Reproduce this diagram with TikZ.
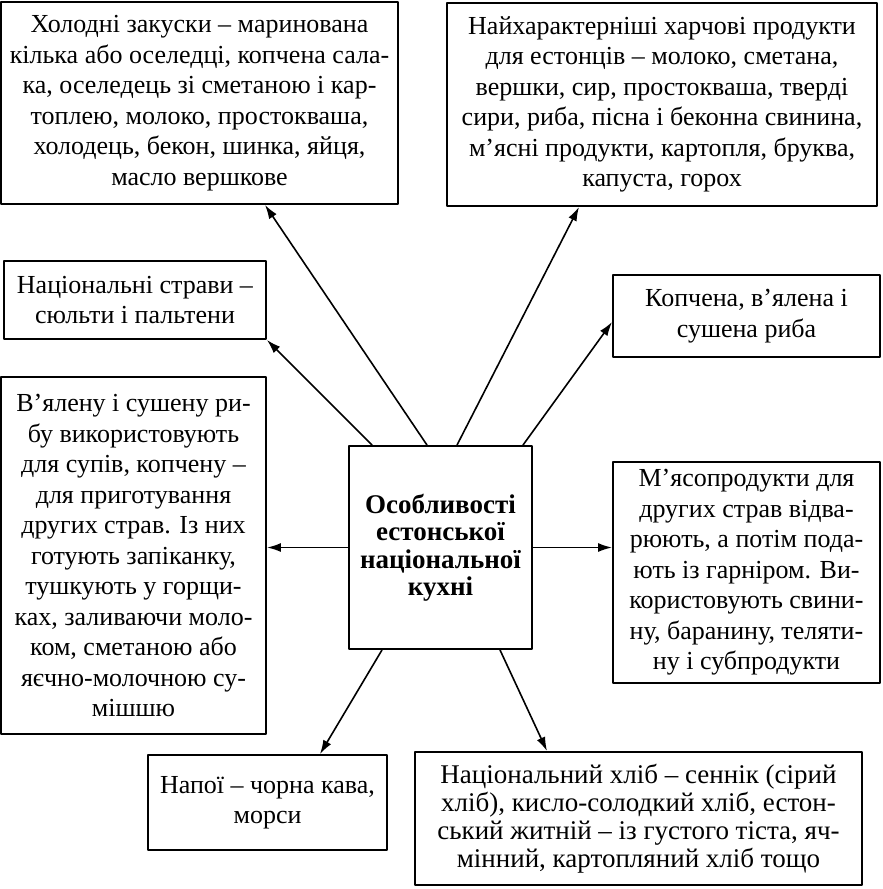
\documentclass[tikz,border=0pt]{standalone}
\usepackage{fontspec}
\setmainfont{Liberation Serif}
\usepackage{tikz}
\usetikzlibrary{arrows.meta,positioning}
\tikzset{
  every picture/.append style={line cap=round,line join=round},
  cuisine box/.style={draw,line width=1.9pt,inner sep=0pt,align=center,
    font=\fontsize{26}{30.5}\selectfont},
  cuisine main/.style={cuisine box,font=\fontsize{27}{27.5}\selectfont\bfseries},
  cuisine low/.style={cuisine box,font=\fontsize{27}{28}\selectfont},
  cuisine arrow/.style={line width=1.6pt,-{Latex[length=14pt,width=9pt]}}
}

\begin{document}
\begin{tikzpicture}[x=1pt,y=1pt]
  \useasboundingbox (0,0) rectangle (883,-889);
  % centre
  \node[cuisine main,minimum width=183,minimum height=203] (centre) at (440.5,-547.5)
    {Особливості\\естонської\\національної\\кухні};
  % boxes round it
  \node[cuisine box,minimum width=397,minimum height=202] (snacks) at (199.5,-103)
    {Холодні закуски – маринована\\кілька або оселедці, копчена сала-\\ка, оселедець зі сметаною і кар-\\топлею, молоко, простокваша,\\холодець, бекон, шинка, яйця,\\масло вершкове};
  \node[cuisine box,minimum width=430,minimum height=203] (products) at (662,-104.5)
    {Найхарактерніші харчові продукти\\для естонців – молоко, сметана,\\вершки, сир, простокваша, тверді\\сири, риба, пісна і беконна свинина,\\м’ясні продукти, картопля, бруква,\\капуста, горох};
  \node[cuisine box,minimum width=262,minimum height=78] (dishes) at (135,-300)
    {Національні страви –\\сюльти і пальтени};
  \node[cuisine box,minimum width=267,minimum height=82] (fish) at (746.5,-316)
    {Копчена, в’ялена і\\сушена риба};
  \node[cuisine box,minimum width=265,minimum height=357] (fishuse) at (133.5,-555.5)
    {В’ялену і сушену ри-\\бу використовують\\для супів, копчену –\\для приготування\\других страв. Із них\\готують запіканку,\\тушкують у горщи-\\ках, заливаючи моло-\\ком, сметаною або\\яєчно-молочною су-\\мішшю};
  \node[cuisine box,minimum width=267,minimum height=221] (meat) at (746.5,-572.5)
    {М’ясопродукти для\\других страв відва-\\рюють, а потім пода-\\ють із гарніром. Ви-\\користовують свини-\\ну, баранину, теляти-\\ну і субпродукти};
  \node[cuisine box,minimum width=239,minimum height=95] (drinks) at (267.5,-802.5)
    {Напої – чорна кава,\\морси};
  \node[cuisine low,minimum width=447,minimum height=133] (bread) at (638.5,-818.5)
    {Національний хліб – сеннік (сірий\\хліб), кисло-солодкий хліб, естон-\\ський житній – із густого тіста, яч-\\мінний, картопляний хліб тощо};
  % arrows
  \draw[cuisine arrow] ([xshift=-13.5]centre.north) -- ([xshift=65.5]snacks.south);
  \draw[cuisine arrow] ([xshift=16.5]centre.north) -- ([xshift=-83]products.south);
  \draw[cuisine arrow] ([xshift=-68.5]centre.north) -- (dishes.south east);
  \draw[cuisine arrow] ([xshift=82.5]centre.north) -- ([yshift=-6]fish.west);
  \draw[cuisine arrow] (centre.west) -- (centre.west -| fishuse.east);
  \draw[cuisine arrow] (centre.east) -- (centre.east -| meat.west);
  \draw[cuisine arrow] ([xshift=-58.5]centre.south) -- ([xshift=52.5]drinks.north);
  \draw[cuisine arrow] ([xshift=59.5]centre.south) -- ([xshift=-91.5]bread.north);
\end{tikzpicture}
\end{document}
